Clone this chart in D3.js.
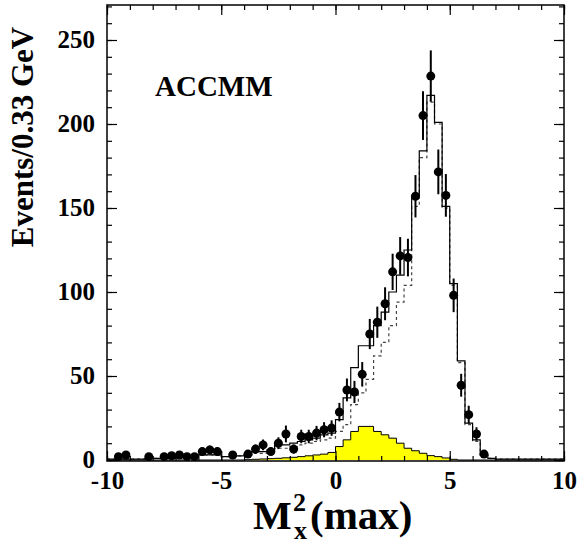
<!DOCTYPE html>
<html><head><meta charset="utf-8">
<script src="https://cdn.jsdelivr.net/npm/d3@7"></script>
<style>
body{margin:0;background:#fff}
svg{display:block}
text{font-family:"Liberation Serif","Times New Roman",serif;font-weight:bold;fill:#000}
</style>
</head><body>
<svg id="chart" width="581" height="545"></svg>
<script>
// ---------- data ----------
const binStart = -10;
const binWidth = 1 / 3;
// Solid histogram: total Monte Carlo (ACCMM), 60 bins from -10 to 10
const mcTotal = [
  0.5,0.5,0.5,0.5,0.5,1,1,1,1,1.5,
  1.5,2,3,3,3,2,2,2.5,3,5,
  5,6,9,9,10,11,12,13,15,16,
  24,37,55,68,68,80,88,100,110,125,
  157,184,217,201,151,105,59,22,12,3,
  1,0.5,0.5,0.5,0.5,0.5,0.5,0.5,0.5,0.5
];
// Dashed histogram: alternative model
const mcAlt = [
  0.5,0.5,0.5,0.5,0.5,1,1,1,1,1.5,
  1.5,2,3,3,3,2,2,2.5,3,4,
  4,5,7,7,8,9,10,11,12,13,
  17,21,33,40,48,62,70,80,94,104,
  151,180,213,200,150,104,58,21,11,3,
  1,0.5,0.5,0.5,0.5,0.5,0.5,0.5,0.5,0.5
];
// Yellow filled histogram: background
const background = [
  0,0,0,0,0,0,0,0,0,0,
  0,0,0,0,0,0,0,0,0.2,0.4,
  0.6,0.8,1,1.3,1.6,2,2.5,3,3.5,4.5,
  8,12,17,20,20,17,15,13,10,7,
  5.5,4,2.6,2,1.2,0.4,0,0,0,0,
  0,0,0,0,0,0,0,0,0,0
];
// Data points
const dataX = [-9.50,-9.17,-8.17,-7.50,-7.17,-6.83,-6.50,-6.17,-5.83,-5.50,-5.17,-4.50,-3.83,-3.50,-3.17,-2.83,-2.50,-2.17,-1.83,-1.50,-1.17,-0.83,-0.50,-0.17,0.17,0.50,0.83,1.17,1.50,1.83,2.17,2.50,2.83,3.17,3.50,3.83,4.17,4.50,4.83,5.17,5.50,5.83,6.17,6.50];
const dataY = [2,3,2,2,2.5,3,2,2,5,6,5,3,3.5,6.5,9,5,10,15.5,6.5,14,14,16,18,19,28.5,41.7,40.5,51,75,82,93,112,121.5,120.5,157,205,228.5,171.5,157.5,98,44.5,27,15.5,3.5];
const dataErr = [1.5,1.8,1.5,1.5,1.7,1.8,1.5,1.5,2.4,2.6,2.4,1.8,2,2.7,3.2,2.4,3.5,5,2.7,4,4,4.3,4.5,4.6,5.5,6.8,6.6,7.3,9,9.3,9.8,10.8,11.2,11.2,12.6,14.5,15.3,13.3,12.7,10,6.8,5.3,4,2];
const xMajorTicks = [-10,-5,0,5,10];
const xTickLabels = ["-10","-5","0","5","10"];
const yMajorTicks = [0,50,100,150,200,250];
const yTickLabels = ["0","50","100","150","200","250"];

// ---------- layout ----------
const svg = d3.select("#chart");
svg.append("rect").attr("width",581).attr("height",545).attr("fill","#fff");
const L = 107, R = 564, T = 5, B = 461;
const x = d3.scaleLinear().domain([-10,10]).range([L,R]);
const y = d3.scaleLinear().domain([0,250]).range([460,40]);

svg.append("defs").append("clipPath").attr("id","clip")
  .append("rect").attr("x",L).attr("y",T).attr("width",R-L).attr("height",B-T);
const plot = svg.append("g").attr("clip-path","url(#clip)");

function stepPoints(vals){
  const pts = vals.map((v,i)=>[binStart+i*binWidth, v]);
  pts.push([binStart+vals.length*binWidth, vals[vals.length-1]]);
  return pts;
}
const line = d3.line().x(d=>x(d[0])).y(d=>y(d[1])).curve(d3.curveStepAfter);
const area = d3.area().x(d=>x(d[0])).y0(y(0)).y1(d=>y(d[1])).curve(d3.curveStepAfter);

// background
plot.append("path").datum(stepPoints(background)).attr("d",area).attr("fill","#ffff00");
plot.append("path").datum(stepPoints(background)).attr("d",line)
  .attr("fill","none").attr("stroke","#000").attr("stroke-width",1);
// dashed
plot.append("path").datum(stepPoints(mcAlt)).attr("d",line)
  .attr("fill","none").attr("stroke","#444").attr("stroke-width",1.2).attr("stroke-dasharray","3,3");
// solid
plot.append("path").datum(stepPoints(mcTotal)).attr("d",line)
  .attr("fill","none").attr("stroke","#000").attr("stroke-width",1.2);

// data
const pts = dataX.map((d,i)=>({x:d,y:dataY[i],e:dataErr[i]}));
plot.selectAll("line.err").data(pts).join("line").attr("class","err")
  .attr("x1",d=>x(d.x)).attr("x2",d=>x(d.x))
  .attr("y1",d=>y(d.y+d.e)).attr("y2",d=>y(Math.max(0,d.y-d.e)))
  .attr("stroke","#000").attr("stroke-width",2);
plot.selectAll("circle.pt").data(pts).join("circle").attr("class","pt")
  .attr("cx",d=>x(d.x)).attr("cy",d=>y(d.y)).attr("r",4.5).attr("fill","#000");

// ---------- axes ----------
const xMinor = d3.range(-10,10.01,1);
const yMinor = d3.range(0,271,10);
function styleAxis(g){ g.select(".domain").remove(); g.selectAll(".tick line").attr("stroke","#000").attr("stroke-width",1.2); }

svg.append("g").attr("transform",`translate(0,${B})`)
  .call(d3.axisBottom(x).tickValues(xMinor).tickSize(-5).tickFormat("")).call(styleAxis);
const xb = svg.append("g").attr("transform",`translate(0,${B})`)
  .call(d3.axisBottom(x).tickValues(xMajorTicks).tickSize(-10)
    .tickFormat((d,i)=>xTickLabels[i])).call(styleAxis);
xb.selectAll("text").attr("y",28).attr("dy",null).attr("font-size",25).attr("fill","#000");

svg.append("g").attr("transform",`translate(0,${T})`)
  .call(d3.axisTop(x).tickValues(xMinor).tickSize(-5).tickFormat("")).call(styleAxis);
svg.append("g").attr("transform",`translate(0,${T})`)
  .call(d3.axisTop(x).tickValues(xMajorTicks).tickSize(-10).tickFormat("")).call(styleAxis);

svg.append("g").attr("transform",`translate(${L},0)`)
  .call(d3.axisLeft(y).tickValues(yMinor).tickSize(-5).tickFormat("")).call(styleAxis);
const yl = svg.append("g").attr("transform",`translate(${L},0)`)
  .call(d3.axisLeft(y).tickValues(yMajorTicks).tickSize(-10).tickPadding(12)
    .tickFormat((d,i)=>yTickLabels[i])).call(styleAxis);
yl.selectAll("text").attr("font-size",25).attr("dy","0.3em").attr("fill","#000");

svg.append("g").attr("transform",`translate(${R},0)`)
  .call(d3.axisRight(y).tickValues(yMinor).tickSize(-5).tickFormat("")).call(styleAxis);
svg.append("g").attr("transform",`translate(${R},0)`)
  .call(d3.axisRight(y).tickValues(yMajorTicks).tickSize(-10).tickFormat("")).call(styleAxis);

// frame
svg.append("rect").attr("x",L).attr("y",T).attr("width",R-L).attr("height",B-T)
  .attr("fill","none").attr("stroke","#000").attr("stroke-width",1.5);

// ---------- titles ----------
svg.append("text").attr("transform","translate(33,137) rotate(-90)")
  .attr("text-anchor","middle").attr("font-size",31).text("Events/0.33 GeV");
svg.append("text").attr("x",155).attr("y",96).attr("font-size",29).text("ACCMM");

svg.append("text").attr("x",253).attr("y",529).attr("font-size",41).text("M");
svg.append("text").attr("x",293).attr("y",511).attr("font-size",26).text("2");
svg.append("text").attr("x",294).attr("y",539).attr("font-size",26).text("x");
svg.append("text").attr("x",310).attr("y",529).attr("font-size",41).text("(max)");
</script>
</body></html>
